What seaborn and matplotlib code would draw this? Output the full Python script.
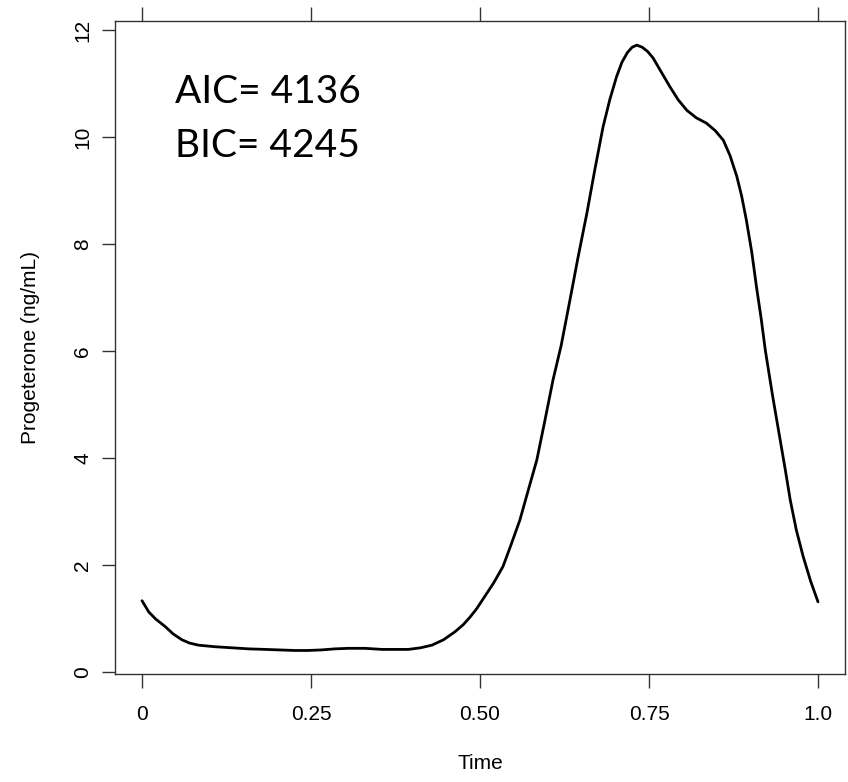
import matplotlib
matplotlib.use("Agg")
import matplotlib.pyplot as plt
import seaborn as sns
import pandas as pd

# Fitted progesterone curve
time = [0.000, 0.010, 0.020, 0.034, 0.046, 0.059, 0.070, 0.083, 0.108, 0.133,
        0.158, 0.182, 0.204, 0.226, 0.245, 0.265, 0.285, 0.305, 0.330, 0.355,
        0.375, 0.394, 0.412, 0.429, 0.446, 0.463, 0.475, 0.485, 0.495, 0.507,
        0.520, 0.534, 0.546, 0.559, 0.571, 0.584, 0.596, 0.608, 0.620, 0.633,
        0.645, 0.658, 0.670, 0.682, 0.692, 0.702, 0.710, 0.718, 0.725, 0.732,
        0.740, 0.748, 0.756, 0.768, 0.781, 0.793, 0.806, 0.820, 0.835, 0.848,
        0.860, 0.870, 0.880, 0.887, 0.894, 0.902, 0.909, 0.916, 0.922, 0.933,
        0.944, 0.952, 0.959, 0.968, 0.978, 0.989, 1.000]
progesterone = [1.33, 1.12, 0.99, 0.85, 0.71, 0.60, 0.54, 0.50, 0.47, 0.45,
                0.43, 0.42, 0.41, 0.40, 0.40, 0.41, 0.43, 0.44, 0.44, 0.42,
                0.42, 0.42, 0.45, 0.50, 0.60, 0.75, 0.88, 1.02, 1.18, 1.41,
                1.66, 1.97, 2.38, 2.84, 3.38, 3.96, 4.70, 5.46, 6.10, 6.95,
                7.75, 8.57, 9.40, 10.19, 10.70, 11.13, 11.40, 11.58, 11.68, 11.72,
                11.68, 11.60, 11.48, 11.22, 10.94, 10.70, 10.50, 10.36, 10.26, 10.12,
                9.94, 9.65, 9.26, 8.90, 8.45, 7.85, 7.20, 6.60, 6.02, 5.15,
                4.34, 3.75, 3.21, 2.65, 2.16, 1.70, 1.31]

x_ticks = [0, 0.25, 0.5, 0.75, 1.0]
x_tick_labels = ["0", "0.25", "0.50", "0.75", "1.0"]
y_ticks = [0, 2, 4, 6, 8, 10, 12]
annotations = ["AIC= 4136", "BIC= 4245"]

df = pd.DataFrame({"Time": time, "Progesterone": progesterone})

sns.set_style("white")
plt.rcParams["font.family"] = ["Liberation Sans", "DejaVu Sans"]
plt.rcParams["text.color"] = "black"
plt.rcParams["axes.labelcolor"] = "black"
plt.rcParams["xtick.color"] = "#333333"
plt.rcParams["ytick.color"] = "#333333"
plt.rcParams["xtick.labelcolor"] = "black"
plt.rcParams["ytick.labelcolor"] = "black"

fig = plt.figure(figsize=(8.48, 7.82), dpi=100)
ax = fig.add_axes([0.1356, 0.1381, 0.9965 - 0.1356, 0.9731 - 0.1381])

sns.lineplot(data=df, x="Time", y="Progesterone", ax=ax, color="black", linewidth=2.0)

ax.set_xlim(-0.04, 1.04)
ax.set_ylim(-0.04, 12.17)
ax.set_xticks(x_ticks)
ax.set_xticklabels(x_tick_labels)
ax.set_yticks(y_ticks)
ax.set_yticklabels([str(v) for v in y_ticks], rotation=90, va="center")

for s in ax.spines.values():
    s.set_visible(True)
    s.set_color("#333333")
    s.set_linewidth(1.0)

ax.tick_params(axis="x", direction="out", length=10, width=1.0,
               labelsize=15, pad=12, top=True, bottom=True, labeltop=False)
ax.tick_params(axis="y", direction="out", length=9.5, width=1.0,
               labelsize=15, pad=7, left=True, right=False)

ax.set_xlabel("Time", fontsize=15, labelpad=22)
ax.set_ylabel("Progeterone (ng/mL)", fontsize=15, labelpad=24)

ax.text(0.082, 0.874, annotations[0], transform=ax.transAxes, fontsize=28,
        family=["Lato", "DejaVu Sans"], color="black", va="baseline", ha="left")
ax.text(0.082, 0.792, annotations[1], transform=ax.transAxes, fontsize=28,
        family=["Lato", "DejaVu Sans"], color="black", va="baseline", ha="left")

fig.savefig("out.png", dpi=100)
